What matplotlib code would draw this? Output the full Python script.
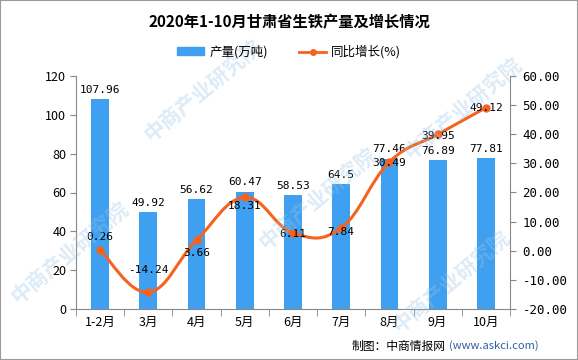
import matplotlib.pyplot as plt
from matplotlib.path import Path
from matplotlib.patches import PathPatch, Rectangle, Patch
from matplotlib.lines import Line2D
import numpy as np

plt.rcParams['font.family'] = ['Noto Sans CJK SC', 'DejaVu Sans']

# data
months = ['1-2月', '3月', '4月', '5月', '6月', '7月', '8月', '9月', '10月']
output = [107.96, 49.92, 56.62, 60.47, 58.53, 64.5, 77.46, 76.89, 77.81]
growth = [0.26, -14.24, 3.66, 18.31, 6.11, 7.84, 30.49, 39.95, 49.12]
growth_label_dy = [9, 16, -9, -6, -1, -3, -1, -1, 0]  # label offset (points)

bar_color = '#3f9ff0'
line_color = '#f5631e'
axis_color = '#888888'

fig = plt.figure(figsize=(5.78, 3.6), dpi=100)
ax = fig.add_axes([76 / 578, 1 - 309 / 360, 434 / 578, 233 / 360])
ax2 = ax.twinx()

x = np.arange(len(months))
ax.bar(x, output, width=0.37, color=bar_color, zorder=2)
for xi, v in zip(x, output):
    ax.annotate(f'{v:g}', (xi, v), xytext=(0, 3), textcoords='offset points',
                ha='center', va='bottom', fontsize=8, family='DejaVu Sans Mono')

ax.set_xlim(-0.5, len(months) - 0.5)
ax.set_ylim(0, 120)
ax.set_yticks(range(0, 121, 20))
ax.set_xticks(x)
ax.set_xticklabels(months, fontsize=9)
ax.set_xticks(np.arange(-0.5, len(months), 1), minor=True)
ax.tick_params(axis='x', which='major', length=0, pad=5)
ax.tick_params(axis='x', which='minor', length=5, color=axis_color)
ax.tick_params(axis='y', length=4, color=axis_color, labelsize=9, pad=3)

ax2.set_ylim(-20, 60)
ax2.set_yticks(range(-20, 61, 10))
ax2.set_yticklabels([f'{t:.2f}' for t in range(-20, 61, 10)], family='DejaVu Sans Mono')
ax2.tick_params(axis='y', length=4, color=axis_color, labelsize=9, pad=5)

for a in (ax, ax2):
    a.spines['top'].set_visible(False)
    for s in ('left', 'right', 'bottom'):
        a.spines[s].set_color(axis_color)
ax.spines['right'].set_visible(False)
ax2.spines['left'].set_visible(False)
ax2.spines['bottom'].set_visible(False)

# smooth line (cubic bezier through the points)
pts = np.column_stack([x, growth]).astype(float)
verts = [tuple(pts[0])]
codes = [Path.MOVETO]
t = 0.2
for i in range(len(pts) - 1):
    p0 = pts[i - 1] if i > 0 else pts[i]
    p1, p2 = pts[i], pts[i + 1]
    p3 = pts[i + 2] if i + 2 < len(pts) else pts[i + 1]
    c1 = p1 + (p2 - p0) * t
    c2 = p2 - (p3 - p1) * t
    verts += [tuple(c1), tuple(c2), tuple(p2)]
    codes += [Path.CURVE4] * 3
ax2.add_patch(PathPatch(Path(verts, codes), fill=False, edgecolor=line_color,
                        linewidth=2.2, zorder=3))
ax2.plot(x, growth, 'o', color=line_color, markersize=5, zorder=4)
for xi, v, dy in zip(x, growth, growth_label_dy):
    ax2.annotate(f'{v:g}', (xi, v), xytext=(0, dy), textcoords='offset points',
                 ha='center', va='center', fontsize=8, family='DejaVu Sans Mono', zorder=5)

# title and legend
fig.text(0.5, 1 - 22 / 360, '2020年1-10月甘肃省生铁产量及增长情况', ha='center', va='center',
         fontsize=11, fontweight='bold')
handles = [Patch(color=bar_color, label='产量(万吨)'),
           Line2D([], [], color=line_color, marker='o', linewidth=2, markersize=4,
                  label='同比增长(%)')]
fig.legend(handles=handles, loc='center', bbox_to_anchor=(0.5, 1 - 52 / 360), ncol=2,
           frameon=False, fontsize=9, handlelength=2.2, handleheight=0.6,
           columnspacing=2.5, handletextpad=0.4)

# source line
fig.text(352 / 578, 1 - 346 / 360, '制图：中商情报网', ha='left', va='center', fontsize=8.5)
fig.text(449 / 578, 1 - 346 / 360, '(www.askci.com)', ha='left', va='center', fontsize=8,
         color='#2f5fa0')

# watermarks
for wx, wy in [(0.12, 0.3), (0.35, 0.75), (0.55, 0.45), (0.8, 0.7), (0.78, 0.22)]:
    fig.text(wx, wy, '中商产业研究院', rotation=40, fontsize=15, color='#9cc6e8',
             alpha=0.35, ha='center', va='center', fontweight='bold', zorder=0)

fig.patches.append(Rectangle((0, 0), 1, 1, transform=fig.transFigure, fill=False,
                             edgecolor='#999999', linewidth=1.5))

fig.savefig('out.png', dpi=100)
